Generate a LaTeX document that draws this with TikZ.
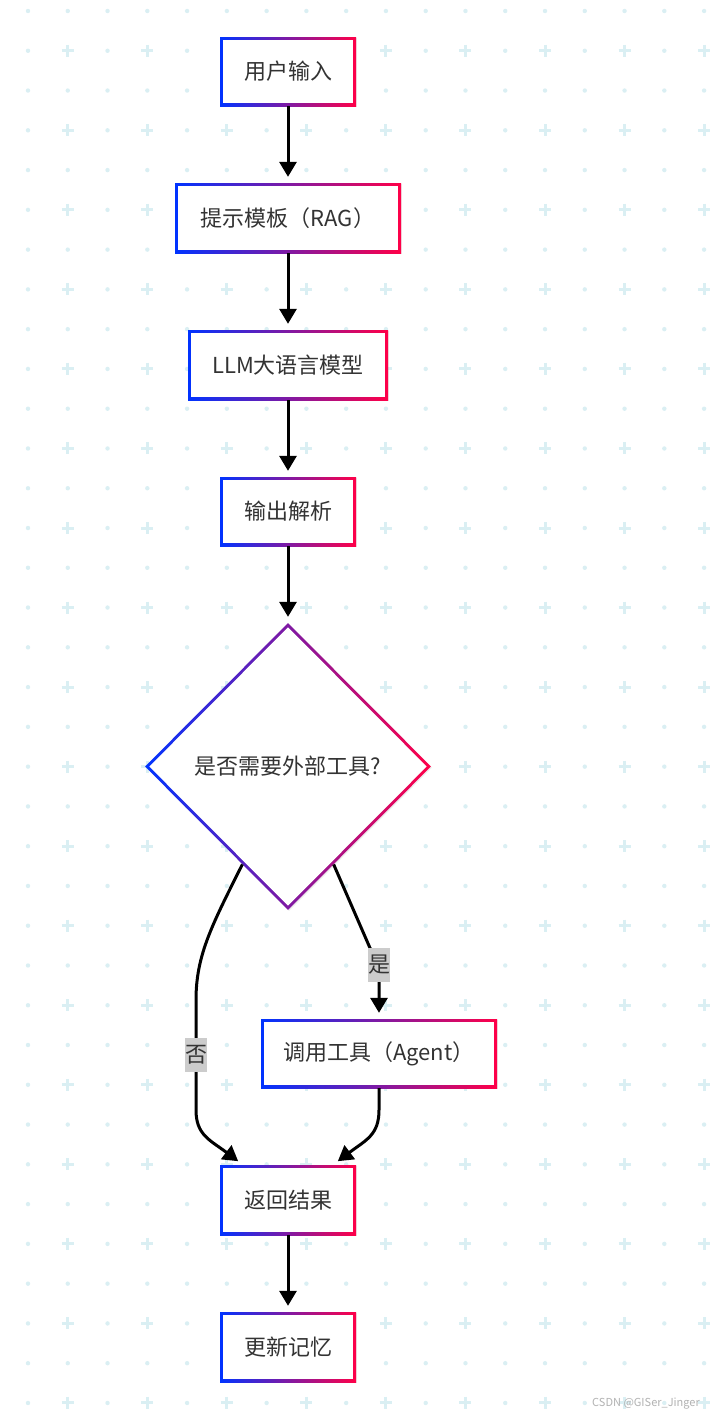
\documentclass[tikz,border=0pt]{standalone}
\usepackage{fontspec}
\setmainfont{Noto Sans CJK SC}
\usetikzlibrary{arrows.meta,shapes.geometric,shadows}
\definecolor{gblue}{RGB}{0,51,255}
\definecolor{gred}{RGB}{255,0,72}
\definecolor{gridc}{RGB}{218,239,243}
\definecolor{txt}{RGB}{51,51,51}
\definecolor{lblbg}{RGB}{204,204,204}
\begin{document}
\begin{tikzpicture}[x=1pt,y=-1pt,
  gbox/.style={rectangle, inner sep=0pt, left color=gblue, right color=gred, text=txt,
    font=\fontsize{22}{26}\selectfont,
    path picture={\fill[white] ([shift={(3pt,3pt)}]path picture bounding box.south west) rectangle ([shift={(-3pt,-3pt)}]path picture bounding box.north east);},
    drop shadow={shadow xshift=1pt,shadow yshift=-1pt,opacity=0.15}},
  gdia/.style={diamond, aspect=1, inner sep=0pt, left color=gblue, right color=gred, text=txt,
    font=\fontsize{22}{26}\selectfont,
    path picture={\fill[white] ([yshift=-4.24pt]path picture bounding box.north) -- ([xshift=-4.24pt]path picture bounding box.east) -- ([yshift=4.24pt]path picture bounding box.south) -- ([xshift=4.24pt]path picture bounding box.west) -- cycle;},
    drop shadow={shadow xshift=1pt,shadow yshift=-1pt,opacity=0.15}},
  conn/.style={line width=3pt, draw=black, -{Triangle[width=17pt,length=15pt]}, shorten >=6pt},
  lbl/.style={fill=lblbg, inner sep=0pt, minimum width=22pt, minimum height=34pt, text=txt,
    font=\fontsize{22}{26}\selectfont}
]
\useasboundingbox (0,0) rectangle (718,1417);
\fill[white] (0,0) rectangle (718,1417);
% background grid
\foreach \i in {0,...,17}{
  \foreach \j in {0,...,35}{
    \pgfmathsetmacro{\gx}{28+39.77*\i}
    \pgfmathsetmacro{\gy}{11+39.77*\j}
    \ifodd\i\relax
      \ifodd\j\relax
        \draw[gridc, line width=3pt] (\gx-6,\gy) -- (\gx+6,\gy) (\gx,\gy-6) -- (\gx,\gy+6);
      \else
        \fill[gridc] (\gx,\gy) circle[radius=2.2pt];
      \fi
    \else
      \fill[gridc] (\gx,\gy) circle[radius=2.2pt];
    \fi
  }
}
% nodes
\node[gbox, minimum width=136pt, minimum height=69pt] (in) at (288,71.5) {用户输入};
\node[gbox, minimum width=226pt, minimum height=70pt] (rag) at (288,218) {提示模板（RAG）};
\node[gbox, minimum width=200pt, minimum height=70pt] (llm) at (288,365) {LLM大语言模型};
\node[gbox, minimum width=136pt, minimum height=69pt] (out) at (288,511.5) {输出解析};
\node[gdia, minimum width=286pt, minimum height=287pt] (dia) at (288,766.5) {是否需要外部工具?};
\node[gbox, minimum width=236pt, minimum height=69pt] (agent) at (379,1053.5) {调用工具（Agent）};
\node[gbox, minimum width=136pt, minimum height=70pt] (ret) at (288,1200) {返回结果};
\node[gbox, minimum width=136pt, minimum height=70pt] (mem) at (288,1347) {更新记忆};
% connectors
\draw[conn] (in.south) -- (rag.north);
\draw[conn] (rag.south) -- (llm.north);
\draw[conn] (llm.south) -- (out.north);
\draw[conn] (out.south) -- (dia.north);
\draw[conn] (dia.245) .. controls (212,925) and (196,955) .. (196,1000) -- (196,1110)
  .. controls (196,1135) and (210,1140) .. ([xshift=-45pt]ret.north);
\draw[conn] (dia.295) -- (370,948) .. controls (379,962) .. (379,975) -- (agent.north);
\draw[conn] (agent.south) -- (379,1110) .. controls (379,1135) and (366,1140) .. ([xshift=45pt]ret.north);
\draw[conn] (ret.south) -- (mem.north);
% labels
\node[lbl] (yes) at (379,965) {是};
\node[lbl] (no) at (196,1054.5) {否};
% watermark
\node[anchor=east, inner sep=0pt, font=\fontsize{11}{13}\selectfont, text=gray!60] (wm) at (700,1404) {CSDN @GISer\_Jinger};
\end{tikzpicture}
\end{document}
